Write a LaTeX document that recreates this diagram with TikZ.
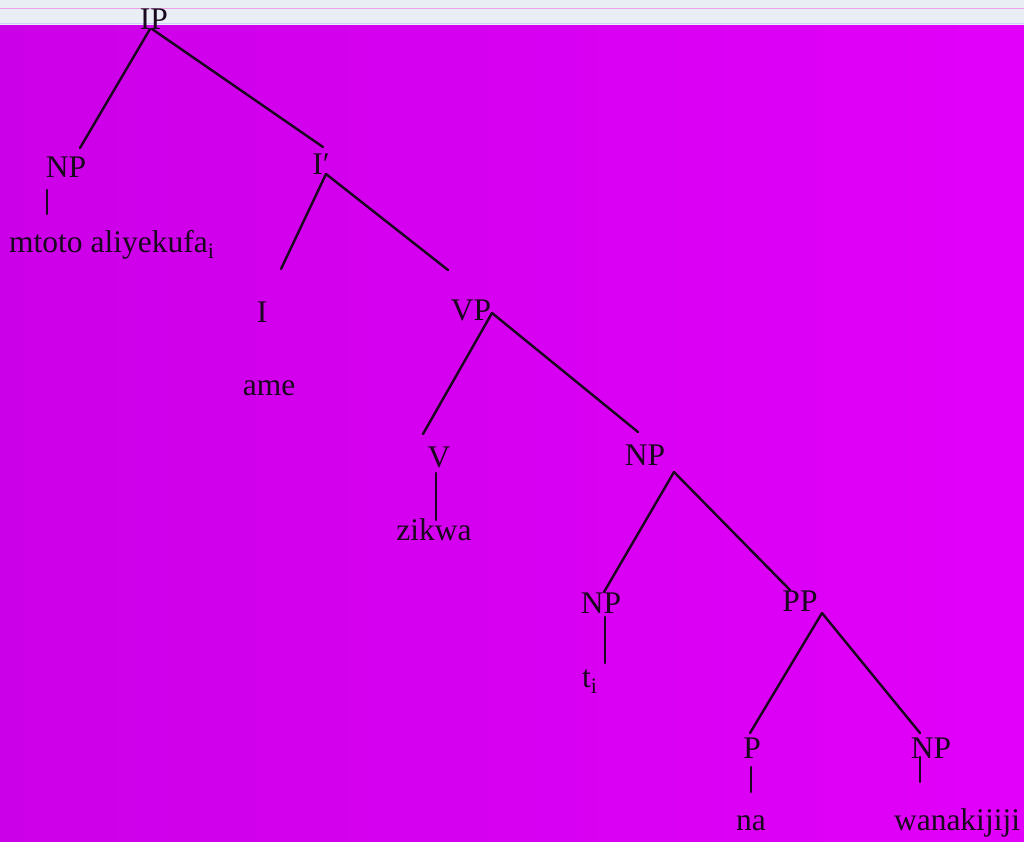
\documentclass[tikz,border=0pt]{standalone}
\usepackage{fontspec}
\setmainfont{Liberation Serif}
\usetikzlibrary{calc}
\definecolor{bgleft}{RGB}{204,0,232}
\definecolor{bgright}{RGB}{226,0,250}
\definecolor{strip}{RGB}{232,238,244}
\definecolor{pinkline}{RGB}{240,160,235}
\definecolor{ink}{RGB}{25,8,30}
\begin{document}
\begin{tikzpicture}[x=1pt,y=-1pt,
  lab/.style={inner sep=0pt,anchor=base,text=ink,font=\fontsize{31.5}{38}\selectfont},
  edge/.style={draw=ink,line width=2.4pt,line cap=round}]
\useasboundingbox (0,0) rectangle (1024,841);
\shade[left color=bgleft,right color=bgright] (0,25) rectangle (1024,841);
\fill[strip] (0,0) rectangle (1024,25);
\draw[pinkline,line width=0.8pt] (0,8) -- (1024,8);
\draw[white!80!blue,line width=1pt] (0,23.5) -- (1024,23.5);
% nodes
\node[lab] (ip) at (154,29) {IP};
\node[lab] (np1) at (66,177) {NP};
\node[lab,anchor=base west] (mtoto) at (9,252) {mtoto aliyekufa\textsubscript{i}};
\node[lab] (ib) at (321,174) {I′};
\node[lab] (i) at (262,322) {I};
\node[lab] (ame) at (269,395) {ame};
\node[lab] (vp) at (471,320) {VP};
\node[lab] (v) at (439,467) {V};
\node[lab] (zikwa) at (434,540) {zikwa};
\node[lab] (np2) at (645,465) {NP};
\node[lab] (np3) at (601,613) {NP};
\node[lab,anchor=base west] (ti) at (582,687) {t\textsubscript{i}};
\node[lab] (pp) at (800,611) {PP};
\node[lab] (p) at (752,758) {P};
\node[lab] (na) at (751,830) {na};
\node[lab] (np4) at (931,758) {NP};
\node[lab] (wana) at (957,830) {wanakijiji};
% connectors
\draw[edge] ($(ip.base)+(-4,0)$) -- ($(np1.base)+(14,-29)$);
\draw[edge] ($(ip.base)+(-2,0)$) -- ($(ib.base)+(2,-27)$);
\draw[edge] ($(np1.base)+(-19,13)$) -- ($(np1.base)+(-19,37)$);
\draw[edge] ($(ib.base)+(5,0)$) -- ($(i.base)+(19,-53)$);
\draw[edge] ($(ib.base)+(5,0)$) -- ($(vp.base)+(-23,-50)$);
\draw[edge] ($(vp.base)+(21,-7)$) -- ($(v.base)+(-16,-33)$);
\draw[edge] ($(vp.base)+(21,-7)$) -- ($(np2.base)+(-7,-33)$);
\draw[edge] ($(v.base)+(-3,6)$) -- ($(v.base)+(-3,53)$);
\draw[edge] ($(np2.base)+(29,7)$) -- ($(np3.base)+(3,-21)$);
\draw[edge] ($(np2.base)+(29,7)$) -- ($(pp.base)+(-10,-21)$);
\draw[edge] ($(np3.base)+(4,4)$) -- ($(np3.base)+(4,50)$);
\draw[edge] ($(pp.base)+(22,2)$) -- ($(p.base)+(-2,-25)$);
\draw[edge] ($(pp.base)+(22,2)$) -- ($(np4.base)+(-11,-25)$);
\draw[edge] ($(p.base)+(-1,9)$) -- ($(p.base)+(-1,34)$);
\draw[edge] ($(np4.base)+(-11,-1)$) -- ($(np4.base)+(-11,24)$);
\end{tikzpicture}
\end{document}
